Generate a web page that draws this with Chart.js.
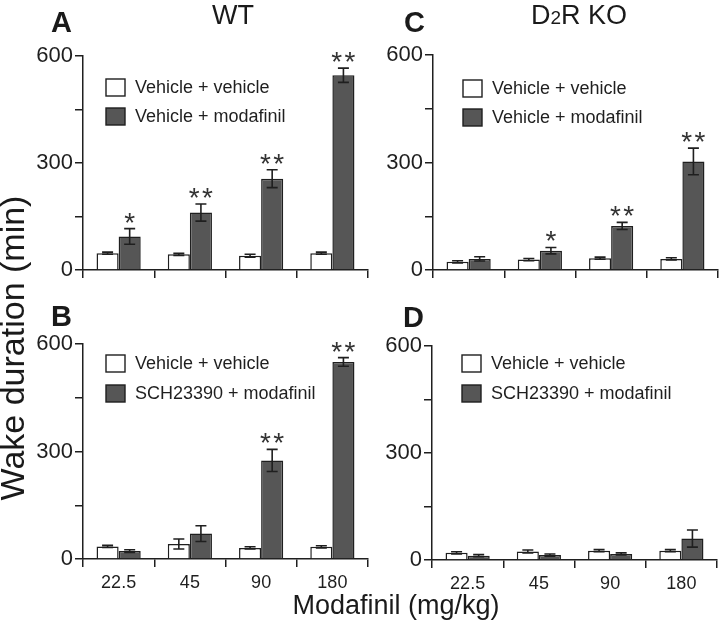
<!DOCTYPE html>
<html>
<head>
<meta charset="utf-8">
<script src="https://cdn.jsdelivr.net/npm/chart.js@4"></script>
<style>
  html,body{margin:0;padding:0;background:#fff;}
  #wrap{position:relative;width:720px;height:624px;background:#fff;overflow:hidden;font-family:"Liberation Sans",Arial,sans-serif;color:#1a1a1a;}
  canvas{position:absolute;}
  .t{position:absolute;white-space:nowrap;line-height:1;}
  .letter{font-weight:bold;font-size:29px;}
</style>
</head>
<body>
<div id="wrap">
  <canvas id="cA" width="372" height="300" style="left:0;top:0"></canvas>
  <canvas id="cC" width="360" height="300" style="left:360px;top:0"></canvas>
  <canvas id="cB" width="372" height="324" style="left:0;top:300px"></canvas>
  <canvas id="cD" width="360" height="324" style="left:360px;top:300px"></canvas>

  <div class="t letter" style="left:51px;top:8px">A</div>
  <div class="t letter" style="left:404px;top:8px">C</div>
  <div class="t letter" style="left:51px;top:302px">B</div>
  <div class="t letter" style="left:403px;top:303px">D</div>

  <div class="t" style="left:212px;top:2px;font-size:27px">WT</div>
  <div class="t" style="left:531px;top:2px;font-size:27px">D<span style="font-size:19px">2</span>R KO</div>

  <div class="t" style="left:-158px;top:331px;width:340px;text-align:center;font-size:34px;transform:rotate(-90deg);transform-origin:50% 50%">Wake duration (min)</div>
  <div class="t" style="left:236px;top:592px;width:320px;text-align:center;font-size:27px">Modafinil (mg/kg)</div>
</div>
<script>
// ---- data ----
const categories = ['22.5', '45', '90', '180'];
const yTickLabels = [0, 300, 600];

const legendTop = ['Vehicle + vehicle', 'Vehicle + modafinil'];
const legendBottom = ['Vehicle + vehicle', 'SCH23390 + modafinil'];

// Panel A (WT, vehicle + modafinil)
const aVehicle = [47, 44, 40, 47];
const aVehicleErr = [3, 3, 4, 3];
const aModafinil = [94, 161, 256, 546];
const aModafinilErr = [22, 24, 25, 20];
const aSig = ['*', '**', '**', '**'];

// Panel B (WT, SCH23390 + modafinil)
const bVehicle = [35, 42, 31, 34];
const bVehicleErr = [3, 14, 3, 3];
const bModafinil = [22, 71, 275, 550];
const bModafinilErr = [4, 22, 31, 12];
const bSig = ['', '', '**', '**'];

// Panel C (D2R KO, vehicle + modafinil)
const cVehicle = [23, 29, 33, 31];
const cVehicleErr = [3, 3, 3, 3];
const cModafinil = [31, 54, 123, 303];
const cModafinilErr = [6, 9, 10, 37];
const cSig = ['', '*', '**', '**'];

// Panel D (D2R KO, SCH23390 + modafinil)
const dVehicle = [20, 24, 26, 26];
const dVehicleErr = [3, 4, 3, 3];
const dModafinil = [12, 14, 17, 60];
const dModafinilErr = [3, 3, 3, 24];
const dSig = ['', '', '', ''];

// ---- drawing ----
const FONT = '"Liberation Sans", Arial, sans-serif';
const INK = '#1f1f1f';
const DARK = '#565656';

const errorBarPlugin = {
  id: 'errorBars',
  afterDatasetsDraw(chart) {
    const ctx = chart.ctx, ys = chart.scales.y;
    chart.data.datasets.forEach((ds, di) => {
      const meta = chart.getDatasetMeta(di);
      meta.data.forEach((bar, i) => {
        const v = ds.data[i], e = ds.errors[i];
        const yt = ys.getPixelForValue(v + e), yb = ys.getPixelForValue(Math.max(0, v - e));
        const hw = 5.5;
        ctx.save();
        ctx.strokeStyle = INK; ctx.lineWidth = 1.6;
        ctx.beginPath();
        ctx.moveTo(bar.x, yt); ctx.lineTo(bar.x, yb);
        ctx.moveTo(bar.x - hw, yt); ctx.lineTo(bar.x + hw, yt);
        ctx.moveTo(bar.x - hw, yb); ctx.lineTo(bar.x + hw, yb);
        ctx.stroke();
        if (ds.sig && ds.sig[i]) {
          ctx.fillStyle = '#333';
          ctx.font = '28px ' + FONT;
          ctx.textAlign = 'center';
          ctx.textBaseline = 'alphabetic';
          ctx.fillText(ds.sig[i].split('').join('\u200A'), bar.x, yt + 3);
        }
        ctx.restore();
      });
    });
  }
};

const legendPlugin = {
  id: 'innerLegend',
  afterDraw(chart, args, opts) {
    const ctx = chart.ctx, ca = chart.chartArea;
    const x0 = ca.left + opts.dx, y0 = ca.top + opts.dy;
    chart.data.datasets.forEach((ds, i) => {
      const y = y0 + i * opts.gap;
      ctx.save();
      ctx.fillStyle = ds.backgroundColor;
      ctx.strokeStyle = INK; ctx.lineWidth = 1.4;
      ctx.fillRect(x0, y, 19, 17);
      ctx.strokeRect(x0, y, 19, 17);
      ctx.fillStyle = INK;
      ctx.font = '18px ' + FONT;
      ctx.textAlign = 'left';
      ctx.textBaseline = 'middle';
      ctx.fillText(ds.label, x0 + 29, y + 9);
      ctx.restore();
    });
  }
};

function makePanel(id, veh, vehErr, mod, modErr, sig, labels, cfg) {
  new Chart(document.getElementById(id), {
    type: 'bar',
    data: {
      labels: categories,
      datasets: [
        { label: labels[0], data: veh, errors: vehErr, backgroundColor: '#ffffff',
          borderColor: INK, borderWidth: 1.5 },
        { label: labels[1], data: mod, errors: modErr, sig: sig, backgroundColor: DARK,
          borderColor: INK, borderWidth: 1.5 }
      ]
    },
    options: {
      responsive: false,
      animation: false,
      devicePixelRatio: 1,
      layout: { padding: { top: cfg.top, right: cfg.right, left: 0, bottom: cfg.bottom } },
      plugins: {
        legend: { display: false },
        tooltip: { enabled: false },
        innerLegend: { dx: cfg.ldx, dy: cfg.ldy, gap: cfg.lgap }
      },
      datasets: { bar: { barPercentage: 1.0, categoryPercentage: 0.62 } },
      scales: {
        x: {
          grid: { display: true, offset: true, drawOnChartArea: false, drawTicks: true,
                  tickLength: 8, color: INK, lineWidth: 1.5 },
          border: { display: true, color: INK, width: 1.5 },
          ticks: { display: cfg.showX, color: INK, padding: 5, font: { family: FONT, size: 18 } },
          afterFit: s => { s.height = cfg.xh; }
        },
        y: {
          min: 0, max: 600,
          grid: { display: true, drawOnChartArea: false, drawTicks: true, tickLength: 8,
                  color: INK, lineWidth: 1.5 },
          border: { display: true, color: INK, width: 1.5 },
          ticks: {
            stepSize: 150, color: INK, padding: 2, font: { family: FONT, size: 22 },
            callback: v => yTickLabels.includes(v) ? String(v) : ''
          },
          afterFit: s => { s.width = cfg.yw; }
        }
      }
    },
    plugins: [errorBarPlugin, legendPlugin]
  });
}

makePanel('cA', aVehicle, aVehicleErr, aModafinil, aModafinilErr, aSig, legendTop,
  { top: 56, right: 4, bottom: 0, xh: 30, yw: 83, showX: false, ldx: 23, ldy: 23, lgap: 29 });
makePanel('cC', cVehicle, cVehicleErr, cModafinil, cModafinilErr, cSig, legendTop,
  { top: 55, right: 2, bottom: 0, xh: 30, yw: 73, showX: false, ldx: 30, ldy: 25, lgap: 29 });
makePanel('cB', bVehicle, bVehicleErr, bModafinil, bModafinilErr, bSig, legendBottom,
  { top: 44, right: 4, bottom: 25, xh: 40, yw: 83, showX: true, ldx: 23, ldy: 11, lgap: 30 });
makePanel('cD', dVehicle, dVehicleErr, dModafinil, dModafinilErr, dSig, legendBottom,
  { top: 46, right: 3, bottom: 24, xh: 40, yw: 72, showX: true, ldx: 30, ldy: 9, lgap: 30 });
</script>
</body>
</html>
